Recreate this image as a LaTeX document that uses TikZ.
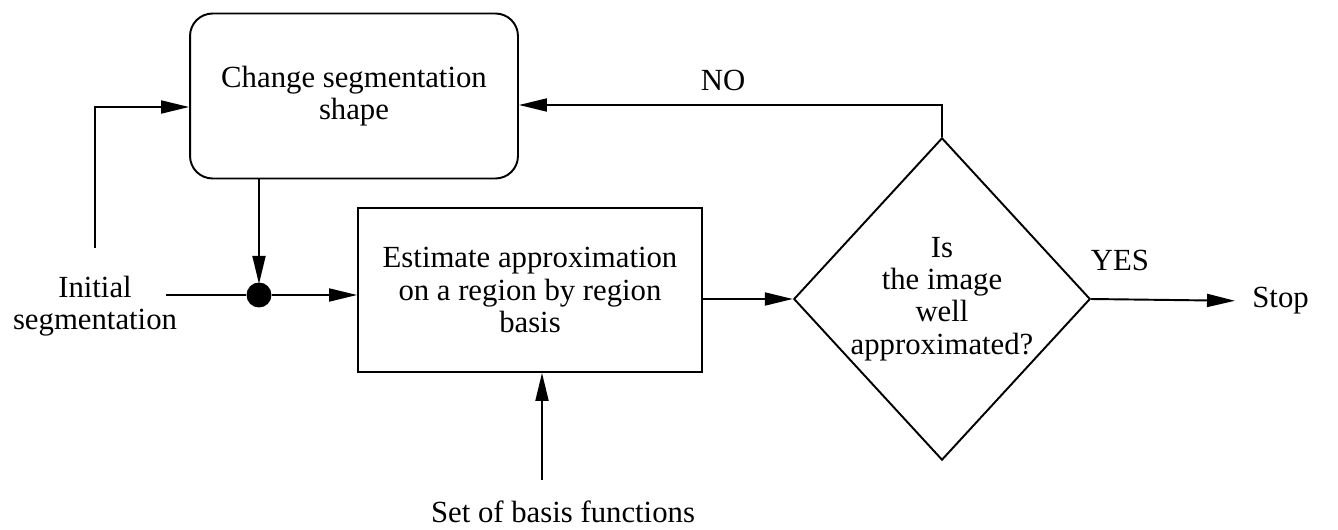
\documentclass[tikz,border=0pt]{standalone}
\usepackage{fontspec}
\setmainfont{Liberation Serif}
\usetikzlibrary{arrows.meta,shapes.geometric}
\tikzset{%
  FlowBox/.style={draw,line width=1.1pt,align=center,inner sep=0pt},
  ChangeStyle/.style={FlowBox,rounded corners=0.45cm,minimum width=6.56cm,minimum height=3.3cm},
  EstimateStyle/.style={FlowBox,minimum width=6.88cm,minimum height=3.28cm},
  TestStyle/.style={FlowBox,diamond,aspect=0.92,minimum width=5.82cm,minimum height=6.34cm},
  LabelStyle/.style={align=center,inner sep=0pt},
  FlowArrow/.style={line width=1.1pt,-{Triangle[length=0.56cm,width=0.26cm]}}
}

\begin{document}
\begin{tikzpicture}[x=0.02cm,y=-0.02cm,font=\fontsize{17.5pt}{18.4pt}\selectfont]
  \fill[white] (0,0) rectangle (1338,530);
  \useasboundingbox (0,0) rectangle (1338,530);
  \node[ChangeStyle] (change) at (354,96) {Change segmentation\\shape};
  \node[EstimateStyle] (estimate) at (530,290) {Estimate approximation\\on a region by region\\basis};
  \node[TestStyle] (test) at (942,299) {Is\\the image\\well\\approximated?};
  \node[circle,fill,inner sep=0pt,minimum size=0.5cm] (join) at (259,295) {};
  \node[LabelStyle] (init) at (95,306) {Initial\\segmentation};
  \node[LabelStyle] (basis) at (563,512) {Set of basis functions};
  \node[LabelStyle,anchor=west] (stop) at (1252,301) {Stop};
  \node[LabelStyle] (no) at (723,80) {NO};
  \node[LabelStyle] (yes) at (1120,260) {YES};
  \coordinate (initTop) at (95,248);
  \coordinate (initEnd) at (166,295);
  \coordinate (basisTop) at (542,480);
  \draw[FlowArrow] (initTop) -- (95,107) -- (change.west |- 0,107);
  \draw[line width=1.1pt] (initEnd) -- (join);
  \draw[FlowArrow] (join) -- (join -| estimate.west);
  \draw[FlowArrow,shorten >=-1pt] (change.south -| join) -- (join.north);
  \draw[FlowArrow] (estimate.east |- test.west) -- (test.west);
  \draw[FlowArrow] (test.north) -- (test.north |- 0,105) -- (change.east |- 0,105);
  \draw[FlowArrow,shorten >=0.34cm] (test.east) -- (stop.west);
  \draw[FlowArrow] (basisTop) -- (basisTop |- estimate.south);
\end{tikzpicture}
\end{document}
